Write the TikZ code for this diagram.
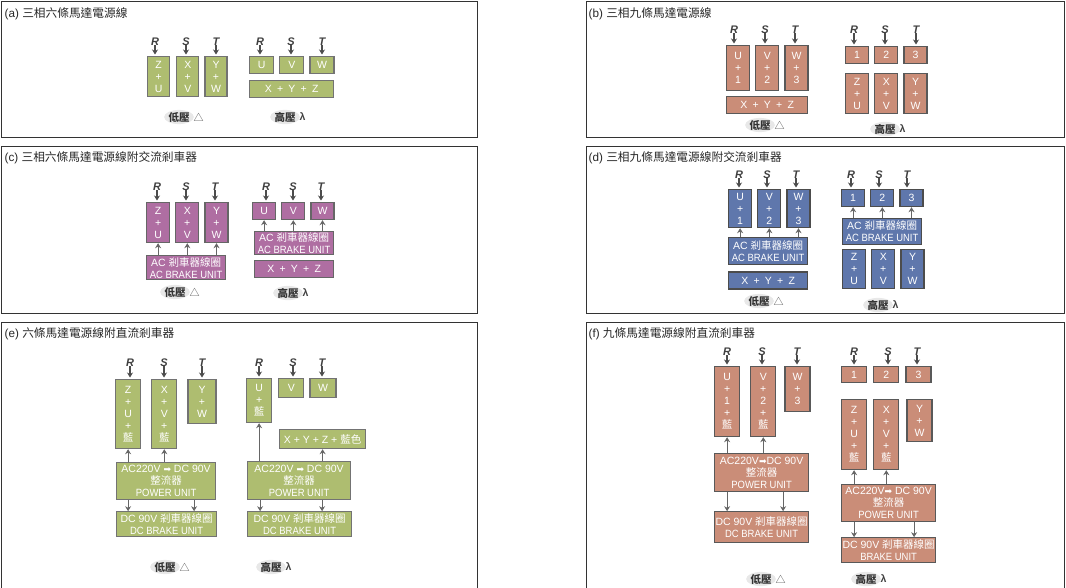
\documentclass[tikz,border=0pt]{standalone}
\usepackage{fontspec}
\setmainfont{Liberation Sans}
\newfontfamily\cjk{Noto Sans CJK TC}
\newfontfamily\symb{DejaVu Sans}
\newfontfamily\nar[FakeStretch=0.9]{Liberation Sans}
\newcommand{\zh}[1]{{\cjk #1}}
\usepackage{xcolor}
\usepackage{tikz}
\usetikzlibrary{shapes,arrows.meta,positioning}
\definecolor{oliveFill}{HTML}{AEBD70}
\definecolor{brickFill}{HTML}{CA8D78}
\definecolor{plumFill}{HTML}{AF6EA2}
\definecolor{steelFill}{HTML}{5F77AC}

\begin{document}
\begin{tikzpicture}[
    x=1pt, y=-1pt,
    sized/.style 2 args={minimum width=#1, minimum height=#2},
    panelBox/.style={
        rectangle, draw=black!80, line width=1pt, anchor=north west
    },
    panelTitle/.style={
        anchor=west, inner sep=0pt, text=black!85, font=\fontsize{11.7}{13}\selectfont
    },
    unitBox/.style={
        rectangle, draw=black!55, line width=1.2pt, text=white, align=center,
        inner sep=0pt, font=\fontsize{10.5}{12}\selectfont
    },
    oliveBox/.style={unitBox, fill=oliveFill},
    brickBox/.style={unitBox, fill=brickFill, draw=black!65},
    plumBox/.style={unitBox, fill=plumFill, draw=black!60},
    steelBox/.style={unitBox, fill=steelFill, draw=black!70},
    phaseLabel/.style={
        inner sep=0pt, text height=8pt, text depth=0pt, text=black!75,
        font=\fontsize{11}{11}\selectfont\bfseries\itshape
    },
    capBlob/.style={
        ellipse, fill=black!9, inner sep=0pt, sized={27pt}{12pt}, text=black!80,
        font=\fontsize{10.5}{12}\selectfont\bfseries
    },
    lowCap/.style={capBlob, label={[label distance=-4pt, text=black!70]right:\zh{\mdseries △}}},
    highCap/.style={capBlob, label={[label distance=-4pt, text=black!75, font=\fontsize{10.5}{12}\selectfont\bfseries]right:λ}},
    feedArrow/.style={
        -{Stealth[length=5pt, width=6pt]}, line width=1.5pt, draw=black!70, shorten >=1.5pt
    },
    linkArrow/.style={
        -{Stealth[length=5pt, width=6pt]}, line width=1.2pt, draw=black!60
    }
]
\useasboundingbox (0,0) rectangle (1066,587);

% Frames and titles
\node[panelBox, sized={476pt}{136pt}] (aPanel) at (1,1) {};
\node[panelBox, sized={478pt}{136pt}] (bPanel) at (586,1) {};
\node[panelBox, sized={476pt}{167pt}] (cPanel) at (1,146) {};
\node[panelBox, sized={478pt}{167pt}] (dPanel) at (586,146) {};
\node[panelBox, sized={476pt}{268pt}] (ePanel) at (1,322) {};
\node[panelBox, sized={478pt}{268pt}] (fPanel) at (586,322) {};
\node[panelTitle] (aTitle) at (4.5,13.5) {(a) \zh{三相六條馬達電源線}};
\node[panelTitle] (bTitle) at (588.5,13.5) {(b) \zh{三相九條馬達電源線}};
\node[panelTitle] (cTitle) at (4.5,158) {(c) \zh{三相六條馬達電源線附交流剎車器}};
\node[panelTitle] (dTitle) at (588.5,158) {(d) \zh{三相九條馬達電源線附交流剎車器}};
\node[panelTitle] (eTitle) at (4.5,333.5) {(e) \zh{六條馬達電源線附直流剎車器}};
\node[panelTitle] (fTitle) at (588.5,333.5) {(f) \zh{九條馬達電源線附直流剎車器}};

% (a) Low voltage
\node[oliveBox, sized={22pt}{40pt}, anchor=north west] (aLowZ) at (147,56) {Z\\+\\U};
\node[oliveBox, sized={22pt}{40pt}, right=6pt of aLowZ] (aLowX) {X\\+\\V};
\node[oliveBox, sized={22pt}{40pt}, right=5pt of aLowX] (aLowY) {Y\\+\\W};
\node[phaseLabel] (aLowR) at (155,41) {R};
\node[phaseLabel] (aLowS) at (186,41) {S};
\node[phaseLabel] (aLowT) at (216,41) {T};
\draw[feedArrow] (aLowR.south) -- (aLowR.south |- aLowZ.north);
\draw[feedArrow] (aLowS.south) -- (aLowS.south |- aLowX.north);
\draw[feedArrow] (aLowT.south) -- (aLowT.south |- aLowY.north);
\node[lowCap] (aLowCap) at (179,117) {\zh{低壓}};

% (a) High voltage
\node[oliveBox, sized={24pt}{17pt}, anchor=north west] (aHighU) at (249,56) {U};
\node[oliveBox, sized={24pt}{17pt}, right=5pt of aHighU] (aHighV) {V};
\node[oliveBox, sized={24pt}{17pt}, right=5pt of aHighV] (aHighW) {W};
\node[oliveBox, sized={84pt}{17pt}, below=6pt of aHighU.south west, anchor=north west] (aHighXYZ) {X\enspace+\enspace Y\enspace+\enspace Z};
\node[phaseLabel] (aHighR) at (260,41) {R};
\node[phaseLabel] (aHighS) at (291,41) {S};
\node[phaseLabel] (aHighT) at (322,41) {T};
\draw[feedArrow] (aHighR.south) -- (aHighR.south |- aHighU.north);
\draw[feedArrow] (aHighS.south) -- (aHighS.south |- aHighV.north);
\draw[feedArrow] (aHighT.south) -- (aHighT.south |- aHighW.north);
\node[highCap] (aHighCap) at (285,117) {\zh{高壓}};

% (b) Low voltage
\node[brickBox, sized={23pt}{45pt}, anchor=north west] (bLowU) at (726,45) {U\\+\\1};
\node[brickBox, sized={23pt}{45pt}, right=5pt of bLowU] (bLowV) {V\\+\\2};
\node[brickBox, sized={23pt}{45pt}, right=5pt of bLowV] (bLowW) {W\\+\\3};
\node[brickBox, sized={81pt}{17pt}, below=5pt of bLowU.south west, anchor=north west] (bLowXYZ) {X\enspace+\enspace Y\enspace+\enspace Z};
\node[phaseLabel] (bLowR) at (734,29) {R};
\node[phaseLabel] (bLowS) at (765,29) {S};
\node[phaseLabel] (bLowT) at (795,29) {T};
\draw[feedArrow] (bLowR.south) -- (bLowR.south |- bLowU.north);
\draw[feedArrow] (bLowS.south) -- (bLowS.south |- bLowV.north);
\draw[feedArrow] (bLowT.south) -- (bLowT.south |- bLowW.north);
\node[lowCap] (bLowCap) at (760,125) {\zh{低壓}};

% (b) High voltage
\node[brickBox, sized={23pt}{17pt}, anchor=north west] (bHighA) at (845,46) {1};
\node[brickBox, sized={23pt}{17pt}, right=5pt of bHighA] (bHighB) {2};
\node[brickBox, sized={23pt}{17pt}, right=5pt of bHighB] (bHighC) {3};
\node[brickBox, sized={23pt}{40pt}, below=9pt of bHighA] (bHighZ) {Z\\+\\U};
\node[brickBox, sized={23pt}{40pt}, below=9pt of bHighB] (bHighX) {X\\+\\V};
\node[brickBox, sized={23pt}{40pt}, below=9pt of bHighC] (bHighY) {Y\\+\\W};
\node[phaseLabel] (bHighR) at (854,29) {R};
\node[phaseLabel] (bHighS) at (885,29) {S};
\node[phaseLabel] (bHighT) at (916,29) {T};
\draw[feedArrow] (bHighR.south) -- (bHighR.south |- bHighA.north);
\draw[feedArrow] (bHighS.south) -- (bHighS.south |- bHighB.north);
\draw[feedArrow] (bHighT.south) -- (bHighT.south |- bHighC.north);
\node[highCap] (bHighCap) at (885,129) {\zh{高壓}};

% (c) Low voltage
\node[plumBox, sized={23pt}{40pt}, anchor=north west] (cLowZ) at (146,202) {Z\\+\\U};
\node[plumBox, sized={23pt}{40pt}, right=5pt of cLowZ] (cLowX) {X\\+\\V};
\node[plumBox, sized={23pt}{40pt}, right=5pt of cLowX] (cLowY) {Y\\+\\W};
\node[plumBox, sized={79pt}{24pt}, below=12pt of cLowZ.south west, anchor=north west] (cLowBrake) {AC \zh{剎車器線圈}\\{\nar AC BRAKE UNIT}};
\node[phaseLabel] (cLowR) at (157,186) {R};
\node[phaseLabel] (cLowS) at (186,186) {S};
\node[phaseLabel] (cLowT) at (215,186) {T};
\draw[feedArrow] (cLowR.south) -- (cLowR.south |- cLowZ.north);
\draw[feedArrow] (cLowS.south) -- (cLowS.south |- cLowX.north);
\draw[feedArrow] (cLowT.south) -- (cLowT.south |- cLowY.north);
\draw[linkArrow] (cLowBrake.north -| cLowZ.south) -- (cLowZ.south);
\draw[linkArrow] (cLowBrake.north -| cLowX.south) -- (cLowX.south);
\draw[linkArrow] (cLowBrake.north -| cLowY.south) -- (cLowY.south);
\node[lowCap] (cLowCap) at (175,292) {\zh{低壓}};

% (c) High voltage
\node[plumBox, sized={23pt}{17pt}, anchor=north west] (cHighU) at (252,202) {U};
\node[plumBox, sized={23pt}{17pt}, right=5pt of cHighU] (cHighV) {V};
\node[plumBox, sized={23pt}{17pt}, right=5pt of cHighV] (cHighW) {W};
\node[plumBox, sized={79pt}{23pt}, anchor=north west] (cHighBrake) at (254,231) {AC \zh{剎車器線圈}\\{\nar AC BRAKE UNIT}};
\node[plumBox, sized={79pt}{17pt}, below=5pt of cHighBrake] (cHighXYZ) {X\enspace+\enspace Y\enspace+\enspace Z};
\node[phaseLabel] (cHighR) at (266,186) {R};
\node[phaseLabel] (cHighS) at (293,186) {S};
\node[phaseLabel] (cHighT) at (321,186) {T};
\draw[feedArrow] (cHighR.south) -- (cHighR.south |- cHighU.north);
\draw[feedArrow] (cHighS.south) -- (cHighS.south |- cHighV.north);
\draw[feedArrow] (cHighT.south) -- (cHighT.south |- cHighW.north);
\draw[linkArrow] (cHighBrake.north -| cHighU.south) -- (cHighU.south);
\draw[linkArrow] (cHighBrake.north -| cHighV.south) -- (cHighV.south);
\draw[linkArrow] (cHighBrake.north -| cHighW.south) -- (cHighW.south);
\node[highCap] (cHighCap) at (288,293) {\zh{高壓}};

% (d) Low voltage
\node[steelBox, sized={23pt}{38pt}, anchor=north west] (dLowU) at (728,189) {U\\+\\1};
\node[steelBox, sized={23pt}{38pt}, right=5pt of dLowU] (dLowV) {V\\+\\2};
\node[steelBox, sized={23pt}{38pt}, right=5pt of dLowV] (dLowW) {W\\+\\3};
\node[steelBox, sized={79pt}{27pt}, below=9pt of dLowU.south west, anchor=north west] (dLowBrake) {AC \zh{剎車器線圈}\\{\nar AC BRAKE UNIT}};
\node[steelBox, sized={79pt}{17pt}, below=6pt of dLowBrake] (dLowXYZ) {X\enspace+\enspace Y\enspace+\enspace Z};
\node[phaseLabel] (dLowR) at (739,174) {R};
\node[phaseLabel] (dLowS) at (767,174) {S};
\node[phaseLabel] (dLowT) at (796,174) {T};
\draw[feedArrow] (dLowR.south) -- (dLowR.south |- dLowU.north);
\draw[feedArrow] (dLowS.south) -- (dLowS.south |- dLowV.north);
\draw[feedArrow] (dLowT.south) -- (dLowT.south |- dLowW.north);
\draw[linkArrow] (dLowBrake.north -| dLowU.south) -- (dLowU.south);
\draw[linkArrow] (dLowBrake.north -| dLowV.south) -- (dLowV.south);
\draw[linkArrow] (dLowBrake.north -| dLowW.south) -- (dLowW.south);
\node[lowCap] (dLowCap) at (759,301) {\zh{低壓}};

% (d) High voltage
\node[steelBox, sized={23pt}{17pt}, anchor=north west] (dHighA) at (841,189) {1};
\node[steelBox, sized={23pt}{17pt}, right=5pt of dHighA] (dHighB) {2};
\node[steelBox, sized={23pt}{17pt}, right=5pt of dHighB] (dHighC) {3};
\node[steelBox, sized={79pt}{26pt}, anchor=north west] (dHighBrake) at (842,218) {AC \zh{剎車器線圈}\\{\nar AC BRAKE UNIT}};
\node[steelBox, sized={23pt}{39pt}, below=4pt of dHighBrake.south west, anchor=north west] (dHighZ) {Z\\+\\U};
\node[steelBox, sized={23pt}{39pt}, right=5pt of dHighZ] (dHighX) {X\\+\\V};
\node[steelBox, sized={23pt}{39pt}, right=5pt of dHighX] (dHighY) {Y\\+\\W};
\node[phaseLabel] (dHighR) at (851,174) {R};
\node[phaseLabel] (dHighS) at (879,174) {S};
\node[phaseLabel] (dHighT) at (907,174) {T};
\draw[feedArrow] (dHighR.south) -- (dHighR.south |- dHighA.north);
\draw[feedArrow] (dHighS.south) -- (dHighS.south |- dHighB.north);
\draw[feedArrow] (dHighT.south) -- (dHighT.south |- dHighC.north);
\draw[linkArrow] (dHighBrake.north -| dHighA.south) -- (dHighA.south);
\draw[linkArrow] (dHighBrake.north -| dHighB.south) -- (dHighB.south);
\draw[linkArrow] (dHighBrake.north -| dHighC.south) -- (dHighC.south);
\node[highCap] (dHighCap) at (878,305) {\zh{高壓}};

% (e) Low voltage
\node[oliveBox, sized={25pt}{69pt}, anchor=north west] (eLowZ) at (115,379) {Z\\+\\U\\+\\\zh{藍}};
\node[oliveBox, sized={25pt}{69pt}, right=10pt of eLowZ] (eLowX) {X\\+\\V\\+\\\zh{藍}};
\node[oliveBox, sized={28pt}{44pt}, right=10pt of eLowX.north east, anchor=north west] (eLowY) {Y\\+\\W};
\node[oliveBox, sized={99pt}{37pt}, anchor=north west] (eLowPower) at (116,462) {AC220V {\symb\small ➡} DC 90V\\\zh{整流器}\\{\nar POWER UNIT}};
\node[oliveBox, sized={100pt}{25pt}, below=11pt of eLowPower.south west, anchor=north west] (eLowBrake) {DC 90V \zh{剎車器線圈}\\{\nar DC BRAKE UNIT}};
\node[phaseLabel] (eLowR) at (130,362) {R};
\node[phaseLabel] (eLowS) at (164,362) {S};
\node[phaseLabel] (eLowT) at (202,362) {T};
\draw[feedArrow] (eLowR.south) -- (eLowR.south |- eLowZ.north);
\draw[feedArrow] (eLowS.south) -- (eLowS.south |- eLowX.north);
\draw[feedArrow] (eLowT.south) -- (eLowT.south |- eLowY.north);
\draw[linkArrow] (eLowPower.north -| eLowZ.south) -- (eLowZ.south);
\draw[linkArrow] (eLowPower.north -| eLowX.south) -- (eLowX.south);
\draw[linkArrow] ([xshift=-38pt]eLowPower.south) -- ([xshift=-38pt]eLowPower.south |- eLowBrake.north);
\draw[linkArrow] ([xshift=28pt]eLowPower.south) -- ([xshift=28pt]eLowPower.south |- eLowBrake.north);
\node[lowCap] (eLowCap) at (165,567) {\zh{低壓}};

% (e) High voltage
\node[oliveBox, sized={25pt}{44pt}, anchor=north west] (eHighU) at (246,378) {U\\+\\\zh{藍}};
\node[oliveBox, sized={25pt}{19pt}, right=6pt of eHighU.north east, anchor=north west] (eHighV) {V};
\node[oliveBox, sized={26pt}{19pt}, right=5pt of eHighV] (eHighW) {W};
\node[oliveBox, sized={86pt}{19pt}, anchor=north west] (eHighXYZ) at (279,429) {X + Y + Z + \zh{藍色}};
\node[oliveBox, sized={103pt}{38pt}, anchor=north west] (eHighPower) at (247,461) {AC220V {\symb\small ➡} DC 90V\\\zh{整流器}\\{\nar POWER UNIT}};
\node[oliveBox, sized={104pt}{25pt}, below=11pt of eHighPower.south west, anchor=north west] (eHighBrake) {DC 90V \zh{剎車器線圈}\\{\nar DC BRAKE UNIT}};
\node[phaseLabel] (eHighR) at (259,362) {R};
\node[phaseLabel] (eHighS) at (293,362) {S};
\node[phaseLabel] (eHighT) at (322,362) {T};
\draw[feedArrow] (eHighR.south) -- (eHighR.south |- eHighU.north);
\draw[feedArrow] (eHighS.south) -- (eHighS.south |- eHighV.north);
\draw[feedArrow] (eHighT.south) -- (eHighT.south |- eHighW.north);
\draw[linkArrow] (eHighPower.north -| eHighU.south) -- (eHighU.south);
\draw[linkArrow] (eHighPower.north -| eHighXYZ.south) -- (eHighXYZ.south);
\draw[linkArrow] ([xshift=-39pt]eHighPower.south) -- ([xshift=-39pt]eHighPower.south |- eHighBrake.north);
\draw[linkArrow] ([xshift=23pt]eHighPower.south) -- ([xshift=23pt]eHighPower.south |- eHighBrake.north);
\node[highCap] (eHighCap) at (271,567) {\zh{高壓}};

% (f) Low voltage
\node[brickBox, sized={25pt}{70pt}, anchor=north west] (fLowU) at (714,366) {U\\+\\1\\+\\\zh{藍}};
\node[brickBox, sized={25pt}{70pt}, right=10pt of fLowU] (fLowV) {V\\+\\2\\+\\\zh{藍}};
\node[brickBox, sized={25pt}{45pt}, right=8pt of fLowV.north east, anchor=north west] (fLowW) {W\\+\\3};
\node[brickBox, sized={94pt}{38pt}, anchor=north west] (fLowPower) at (714,453) {AC220V{\symb\small ➡}DC 90V\\\zh{整流器}\\{\nar POWER UNIT}};
\node[brickBox, sized={94pt}{31pt}, below=19pt of fLowPower.south west, anchor=north west] (fLowBrake) {DC 90V \zh{剎車器線圈}\\{\nar DC BRAKE UNIT}};
\node[phaseLabel] (fLowR) at (727,351) {R};
\node[phaseLabel] (fLowS) at (762,351) {S};
\node[phaseLabel] (fLowT) at (797,351) {T};
\draw[feedArrow] (fLowR.south) -- (fLowR.south |- fLowU.north);
\draw[feedArrow] (fLowS.south) -- (fLowS.south |- fLowV.north);
\draw[feedArrow] (fLowT.south) -- (fLowT.south |- fLowW.north);
\draw[linkArrow] (fLowPower.north -| fLowU.south) -- (fLowU.south);
\draw[linkArrow] (fLowPower.north -| fLowV.south) -- (fLowV.south);
\draw[linkArrow] ([xshift=-34.5pt]fLowPower.south) -- ([xshift=-34.5pt]fLowPower.south |- fLowBrake.north);
\draw[linkArrow] ([xshift=21.5pt]fLowPower.south) -- ([xshift=21.5pt]fLowPower.south |- fLowBrake.north);
\node[lowCap] (fLowCap) at (761,579) {\zh{低壓}};

% (f) High voltage
\node[brickBox, sized={25pt}{16pt}, anchor=north west] (fHighA) at (841,366) {1};
\node[brickBox, sized={25pt}{16pt}, right=6pt of fHighA] (fHighB) {2};
\node[brickBox, sized={25pt}{16pt}, right=6pt of fHighB] (fHighC) {3};
\node[brickBox, sized={25pt}{70pt}, anchor=north west] (fHighZ) at (841,399) {Z\\+\\U\\+\\\zh{藍}};
\node[brickBox, sized={25pt}{70pt}, right=6pt of fHighZ] (fHighX) {X\\+\\V\\+\\\zh{藍}};
\node[brickBox, sized={25pt}{42pt}, right=7pt of fHighX.north east, anchor=north west] (fHighY) {Y\\+\\W};
\node[brickBox, sized={94pt}{37pt}, anchor=north west] (fHighPower) at (841,484) {AC220V{\symb\small ➡} DC 90V\\\zh{整流器}\\{\nar POWER UNIT}};
\node[brickBox, sized={94pt}{25pt}, below=15pt of fHighPower.south west, anchor=north west] (fHighBrake) {DC 90V \zh{剎車器線圈}\\{\nar BRAKE UNIT}};
\node[phaseLabel] (fHighR) at (854,351) {R};
\node[phaseLabel] (fHighS) at (888,351) {S};
\node[phaseLabel] (fHighT) at (917,351) {T};
\draw[feedArrow] (fHighR.south) -- (fHighR.south |- fHighA.north);
\draw[feedArrow] (fHighS.south) -- (fHighS.south |- fHighB.north);
\draw[feedArrow] (fHighT.south) -- (fHighT.south |- fHighC.north);
\draw[linkArrow] (fHighPower.north -| fHighZ.south) -- (fHighZ.south);
\draw[linkArrow] (fHighPower.north -| fHighX.south) -- (fHighX.south);
\draw[linkArrow] ([xshift=-34.5pt]fHighPower.south) -- ([xshift=-34.5pt]fHighPower.south |- fHighBrake.north);
\draw[linkArrow] ([xshift=25.5pt]fHighPower.south) -- ([xshift=25.5pt]fHighPower.south |- fHighBrake.north);
\node[highCap] (fHighCap) at (866,579) {\zh{高壓}};

\end{tikzpicture}
\end{document}
